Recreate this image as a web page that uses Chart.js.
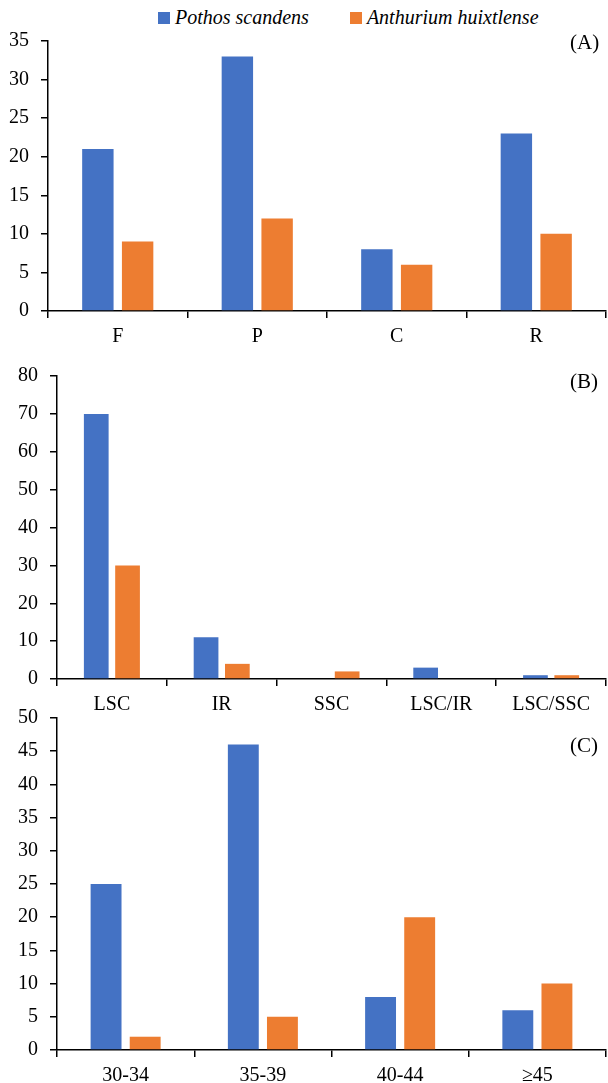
<!DOCTYPE html>
<html>
<head>
<meta charset="utf-8">
<script src="https://cdn.jsdelivr.net/npm/chart.js@4"></script>
<style>
  body { margin: 0; background: #fff; width: 608px; height: 1083px; overflow: hidden; position: relative; font-family: "Liberation Serif", serif; }
  .panel { position: absolute; left: 0; width: 608px; }
  .tag { position: absolute; font-size: 21px; color: #000; }
  #legend { position: absolute; top: 6px; left: 158px; font-size: 20px; font-style: italic; white-space: nowrap; }
  #legend span.box { display: inline-block; width: 12px; height: 12px; margin-right: 5px; vertical-align: 0px; }
</style>
</head>
<body>
<div id="legend">
  <span class="box" style="background:#4472C4"></span>Pothos scandens
  <span class="box" style="background:#ED7D31; margin-left:36px"></span>Anthurium huixtlense
</div>
<div class="panel" style="top:0;height:350px"><canvas id="chartA"></canvas></div>
<div class="panel" style="top:350px;height:360px"><canvas id="chartB"></canvas></div>
<div class="panel" style="top:694px;height:389px"><canvas id="chartC"></canvas></div>
<div class="tag" style="left:570px;top:30px">(A)</div>
<div class="tag" style="left:570px;top:369px">(B)</div>
<div class="tag" style="left:570px;top:733px">(C)</div>
<script>
const seriesNames = ['Pothos scandens', 'Anthurium huixtlense'];
const colors = ['#4472C4', '#ED7D31'];

// (A)
const catsA = ['F', 'P', 'C', 'R'];
const pothosA = [21, 33, 8, 23];
const anthuriumA = [9, 12, 6, 10];

// (B)
const catsB = ['LSC', 'IR', 'SSC', 'LSC/IR', 'LSC/SSC'];
const pothosB = [70, 11, 0, 3, 1];
const anthuriumB = [30, 4, 2, 0, 1];

// (C)
const catsC = ['30-34', '35-39', '40-44', '\u226545'];
const pothosC = [25, 46, 8, 6];
const anthuriumC = [2, 5, 20, 10];

const font = { family: '"Liberation Serif", serif', size: 20 };

function makeChart(id, cats, a, b, yMax, step, yWidth, pad, xHeight) {
  return new Chart(document.getElementById(id), {
    type: 'bar',
    data: {
      labels: cats,
      datasets: [a, b].map((d, i) => ({
        label: seriesNames[i],
        data: d,
        backgroundColor: colors[i],
        categoryPercentage: 0.57,
        barPercentage: 0.79
      }))
    },
    options: {
      responsive: true,
      maintainAspectRatio: false,
      animation: false,
      layout: { padding: pad },
      plugins: { legend: { display: false }, tooltip: { enabled: false } },
      scales: {
        x: {
          grid: { display: true, drawOnChartArea: false, drawTicks: true, tickLength: 7, color: '#000', lineWidth: 1.5 },
          border: { display: true, color: '#000', width: 1.5 },
          ticks: { color: '#000', font: font, padding: 7, maxRotation: 0 },
          afterFit: s => { s.height = xHeight; }
        },
        y: {
          min: 0, max: yMax,
          grid: { display: true, drawOnChartArea: false, drawTicks: true, tickLength: 7, color: '#000', lineWidth: 1.5 },
          border: { display: true, color: '#000', width: 1.5 },
          ticks: { color: '#000', font: font, stepSize: step, padding: 12 },
          afterFit: s => { s.width = yWidth; }
        }
      }
    }
  });
}

makeChart('chartA', catsA, pothosA, anthuriumA, 35, 5, 48, { top: 41, right: 2, left: 0, bottom: 0 }, 39);
makeChart('chartB', catsB, pothosB, anthuriumB, 80, 10, 57, { top: 26, right: 2, left: 0, bottom: 0 }, 31);
makeChart('chartC', catsC, pothosC, anthuriumC, 50, 5, 57, { top: 12, right: 2, left: 0, bottom: 0 }, 33);
</script>
</body>
</html>
